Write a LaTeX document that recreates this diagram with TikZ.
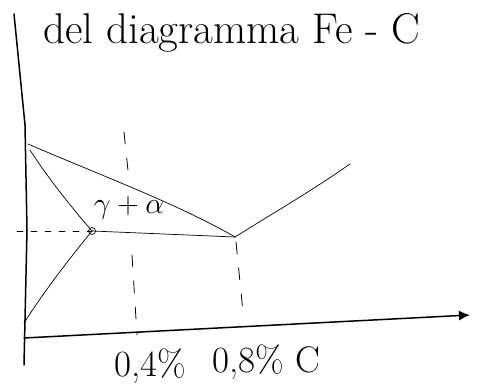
\documentclass[tikz,border=0pt]{standalone}
\usepackage{graphicx}
\usetikzlibrary{arrows.meta}
\begin{document}
\begin{tikzpicture}[x=1pt, y=-1pt, line cap=round, every node/.style={inner sep=0pt},
  curve/.style={line width=0.7pt},
  axis/.style={line width=1.5pt},
  guide/.style={line width=0.8pt, dash pattern=on 12pt off 14pt}]
\useasboundingbox (0,0) rectangle (480,385);
\coordinate (top) at (14,14);
\coordinate (orig) at (24,338);
\coordinate (tip) at (470,315);
\coordinate (A3) at (28,144);
\coordinate (G) at (30,150);
\coordinate (P) at (92,231);
\coordinate (E) at (235,237);
\coordinate (Acm) at (350,164);
\coordinate (A1) at (24,323);
\coordinate (left) at (17,231);
\node[anchor=base west, font=\fontsize{43}{45}\selectfont] (title) at (43,44) {del diagramma Fe - C};
\node[font=\fontsize{25}{27}\selectfont] (gammaalpha) at (129,208) {\scalebox{1.2}{$\gamma+\alpha$}};
\node[anchor=base west, font=\fontsize{37}{39}\selectfont] (lblA) at (114,376) {0,4\%};
\node[anchor=base west, font=\fontsize{37}{39}\selectfont] (lblB) at (212,372) {0,8\% C};
% axes
\draw[axis] (top) -- (25,125) -- (27,230) -- (24,365);
\draw[axis, -{Latex[length=11pt,width=10pt]}] (orig) -- (tip);
% phase lines
\draw[curve] (A3) .. controls (100,175) and (180,205) .. (E);
\draw[curve] (E) .. controls (270,215) and (310,192) .. (Acm);
\draw[curve] (G) .. controls (48,178) and (72,208) .. (P);
\draw[curve] (P) .. controls (70,258) and (45,290) .. (A1);
\draw[curve] (P) -- (E);
\draw[curve] (P) circle (3.5);
% guides
\draw[guide, dash pattern=on 6pt off 8pt] (left) -- (P);
\draw[guide] (124,132) -- (129,180);
\draw[guide] (132,255) -- (137,335);
\draw[guide] (236,242) -- (243,312);
\end{tikzpicture}
\end{document}
